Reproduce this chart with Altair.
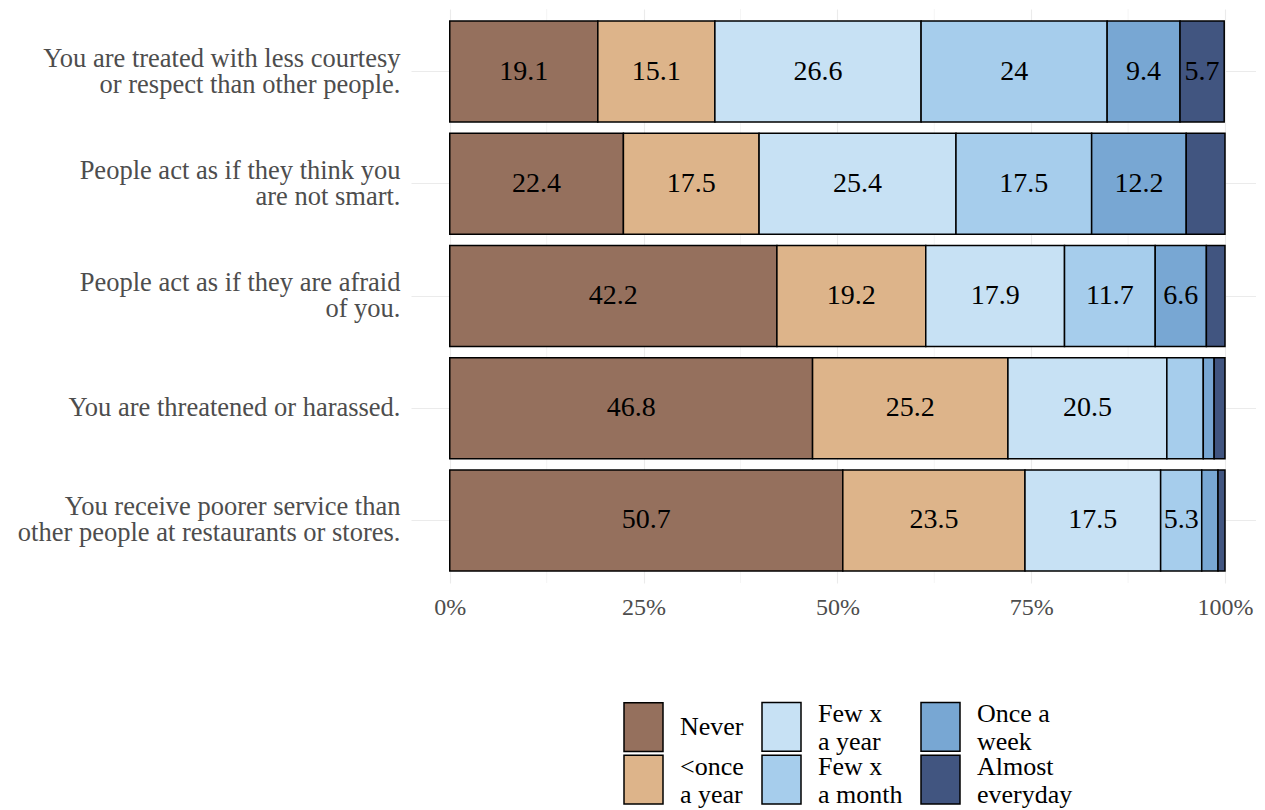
import altair as alt
import pandas as pd

# ---------------- data ----------------
items = [
    "You are treated with less courtesy|or respect than other people.",
    "People act as if they think you|are not smart.",
    "People act as if they are afraid|of you.",
    "You are threatened or harassed.",
    "You receive poorer service than|other people at restaurants or stores.",
]
categories = ["Never", "<once|a year", "Few x| a year", "Few x|a month", "Once a|week", "Almost|everyday"]
colors = ["#95705D", "#DDB48A", "#C7E1F4", "#A6CDEC", "#78A7D3", "#415580"]

never = [19.1, 22.4, 42.2, 46.8, 50.7]
less_once_year = [15.1, 17.5, 19.2, 25.2, 23.5]
few_year = [26.6, 25.4, 17.9, 20.5, 17.5]
few_month = [24.0, 17.5, 11.7, 4.7, 5.3]
once_week = [9.4, 12.2, 6.6, 1.4, 2.1]
almost = [5.7, 5.0, 2.4, 1.4, 0.9]

x_ticks = [0, 25, 50, 75, 100]
minor_ticks = [12.5, 37.5, 62.5, 87.5]

series = [never, less_once_year, few_year, few_month, once_week, almost]

rows = []
for ci, (cat, vals) in enumerate(zip(categories, series)):
    for ii, item in enumerate(items):
        v = vals[ii]
        rows.append({"item": item, "cat": cat, "order": ci, "value": v, "lab": f"{v:g}"})
df = pd.DataFrame(rows)

FONT = "Liberation Serif"

xscale = alt.Scale(domain=[-5, 104], nice=False, zero=False)
yscale = alt.Scale(paddingInner=0.1, paddingOuter=0.107)

xaxis = alt.Axis(
    values=x_ticks,
    labelExpr="datum.value + '%'",
    title=None,
    ticks=False,
    domain=False,
    grid=True,
    gridColor="#EBEBEB",
    gridWidth=1.1,
    labelFont=FONT,
    labelFontSize=24,
    labelColor="#4D4D4D",
    labelPadding=12,
)

base = alt.Chart(df).transform_stack(
    stack="value", groupby=["item"], sort=[alt.SortField("order")], as_=["x0", "x1"]
).transform_calculate(mid="(datum.x0 + datum.x1) / 2")

yenc = alt.Y(
    "item:N",
    sort=items,
    scale=yscale,
    axis=alt.Axis(
        title=None,
        labelExpr="split(datum.label, '|')",
        labelFont=FONT,
        labelFontSize=26.5,
        labelColor="#4D4D4D",
        labelPadding=11,
        labelLineHeight=26,
        labelOffset={"condition": {"test": "indexof(datum.value, '|') >= 0", "value": -13}, "value": 0},
        labelLimit=0,
        ticks=False,
        domain=False,
        grid=True,
        gridColor="#EBEBEB",
        gridWidth=1.1,
        bandPosition=0.5,
        minExtent=403,
        maxExtent=403,
    ),
)

minor = alt.Chart(pd.DataFrame({"v": minor_ticks})).mark_rule(
    color="#F2F2F2", strokeWidth=0.8
).encode(x=alt.X("v:Q", scale=xscale, axis=xaxis))

bars = base.mark_bar(stroke="black", strokeWidth=1.5).encode(
    y=yenc,
    x=alt.X("x0:Q", scale=xscale, axis=xaxis),
    x2="x1:Q",
    color=alt.Color(
        "cat:N",
        scale=alt.Scale(domain=categories, range=colors),
        legend=alt.Legend(
            title=None,
            orient="none",
            legendX=212,
            legendY=697,
            columns=3,
            symbolType="M-1,-1.25H1V1.25H-1Z",
            symbolSize=1521,
            symbolStrokeColor="black",
            symbolStrokeWidth=1.5,
            symbolOpacity=1,
            labelExpr="split(datum.label, '|')",
            labelFont=FONT,
            labelFontSize=26,
            labelColor="black",
            labelBaseline={"expr": "indexof(datum.value, '|') >= 0 ? 'bottom' : 'middle'"},
            labelOffset=16,
            labelLimit=0,
            columnPadding=15,
            rowPadding=-3,
            padding=0,
        ),
    ),
)

text = base.transform_filter("datum.value > 5").mark_text(
    font=FONT, fontSize=28, color="black"
).encode(
    y=alt.Y("item:N", sort=items, scale=yscale),
    x=alt.X("mid:Q", scale=xscale),
    text="lab:N",
)

chart = alt.layer(minor, bars, text).properties(
    width=845,
    height=574,
    padding={"left": 0, "top": 0, "right": 0, "bottom": 0},
).configure_view(stroke=None)

chart.save("out.html", embed_options={"renderer": "svg", "actions": False})
